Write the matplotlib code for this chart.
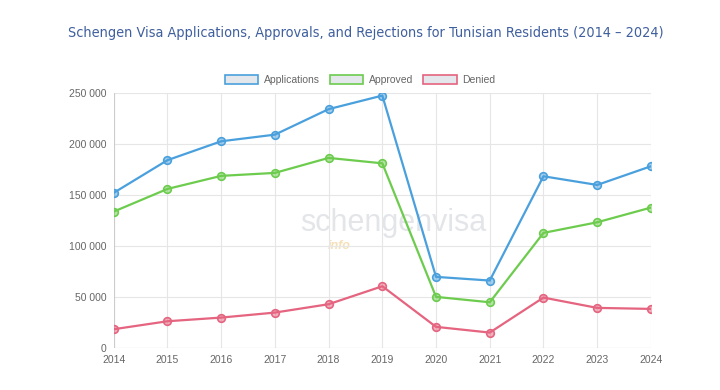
import matplotlib.pyplot as plt
from matplotlib.patches import Patch
from matplotlib.ticker import FuncFormatter

years = [2014, 2015, 2016, 2017, 2018, 2019, 2020, 2021, 2022, 2023, 2024]
applications = [152000, 184000, 202500, 209000, 234000, 247300, 69600, 66000, 168200, 159700, 178000]
approved = [133600, 155800, 168600, 171500, 186200, 180900, 50000, 44700, 112700, 123100, 137500]
denied = [18300, 26100, 29700, 34600, 42800, 60400, 20600, 15000, 49300, 39200, 38200]

series = [
    ("Applications", applications, "#4aa0dd"),
    ("Approved", approved, "#6dcc4e"),
    ("Denied", denied, "#e5647f"),
]

plt.rcParams['font.family'] = ['Liberation Sans', 'DejaVu Sans']

fig = plt.figure(figsize=(7.2, 3.9), dpi=100)
ax = fig.add_axes([0.158, 0.108, 0.746, 0.654])

for name, vals, color in series:
    ax.plot(years, vals, color=color, lw=1.6, marker='o', ms=5.5,
            mfc=color + "80", mec=color, mew=1.2, zorder=3)

ax.set_xlim(2014, 2024)
ax.set_ylim(0, 250000)
ax.set_xticks(years)
ax.set_yticks(range(0, 250001, 50000))
ax.yaxis.set_major_formatter(FuncFormatter(lambda v, p: f"{int(v):,}".replace(",", " ")))
ax.grid(True, color="#e6e6e6", lw=0.8)
ax.tick_params(colors="#666666", labelsize=7.5, length=0, pad=5)
for s in ax.spines.values():
    s.set_visible(False)
ax.axhline(0, color="#cccccc", lw=0.8)
ax.axvline(2014, color="#cccccc", lw=0.8)

# faint watermark
ax.text(0.52, 0.49, "schengenvisa", transform=ax.transAxes, ha="center", va="center",
        fontsize=22, color="#dcdfe4", alpha=0.8, zorder=1)
ax.text(0.42, 0.40, "info", transform=ax.transAxes, ha="center", va="center",
        fontsize=9, color="#f3d9a8", style="italic", fontweight="bold", alpha=0.8, zorder=1)

handles = [Patch(facecolor="#e4e8ec", edgecolor=c, lw=1.2, label=n) for n, v, c in series]
fig.legend(handles=handles, loc="center", bbox_to_anchor=(0.5, 0.795), ncol=3, frameon=False,
           fontsize=7.5, labelcolor="#666666", handlelength=3.2, handleheight=0.9,
           columnspacing=1.0, handletextpad=0.5)

fig.text(0.508, 0.915, "Schengen Visa Applications, Approvals, and Rejections for Tunisian Residents (2014 \u2013 2024)",
         ha="center", va="center", fontsize=10.4, color="#3f5f9e",
         family='DejaVu Sans', fontstretch='condensed')

fig.savefig("out.png", dpi=100)
